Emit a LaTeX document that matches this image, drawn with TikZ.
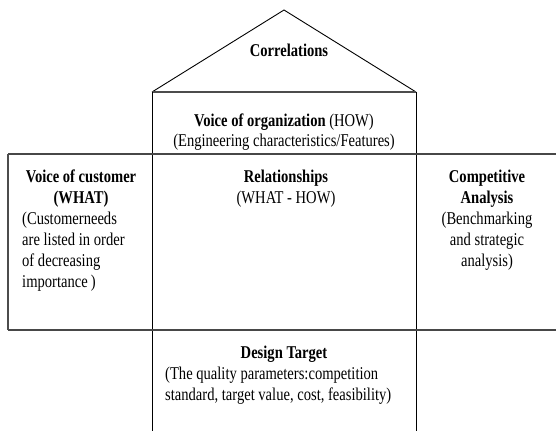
\documentclass[tikz,border=0pt]{standalone}
\usepackage{fontspec}
\setmainfont{Liberation Serif}[FakeStretch=0.81]
\tikzset{
  txt/.style={inner sep=0pt, font=\fontsize{18}{21}\selectfont},
  hline/.style={line width=2pt, draw=black!72},
  vline/.style={line width=0.9pt, draw=black}
}
\begin{document}
\begin{tikzpicture}[x=1pt, y=-1pt]
\useasboundingbox (0,0) rectangle (556,431);

% corners of the house
\coordinate (apex) at (284,10);
\coordinate (roofl) at (152,92);
\coordinate (roofr) at (416,92);
\coordinate (footl) at (152,431);
\coordinate (footr) at (416,431);
\coordinate (whatnw) at (8,154);
\coordinate (whatsw) at (8,330);
\coordinate (edgetop) at (556,154);
\coordinate (edgebot) at (556,330);

\draw[vline] (roofl) -- (apex) -- (roofr);
\draw[line width=1.2pt, black!70] (roofl) -- (roofr);
\draw[vline] (roofl) -- (footl);
\draw[vline] (roofr) -- (footr);
\draw[hline] (whatnw) -- (edgetop);
\draw[hline] (whatsw) -- (edgebot);
\draw[line width=1.5pt, black!70] (whatnw) -- (whatsw);

% roof and upper room
\node[txt, anchor=base] (corr) at (289,56) {\textbf{Correlations}};
\node[txt, anchor=base] (how) at (284,126) {\textbf{Voice of organization} (HOW)};
\node[txt, anchor=base] (howsub) at (284,146) {(Engineering characteristics/Features)};

% left room
\node[txt, anchor=base] (what) at (81,182) {\textbf{Voice of customer}};
\node[txt, anchor=base] (whatb) at (81,203) {\textbf{(WHAT)}};
\node[txt, anchor=base west] (what1) at (22,224) {(Customerneeds};
\node[txt, anchor=base west] (what2) at (22,245) {are listed in order};
\node[txt, anchor=base west] (what3) at (22,266) {of decreasing};
\node[txt, anchor=base west] (what4) at (22,287) {importance\,)};

% middle room
\node[txt, anchor=base] (rel) at (286,182) {\textbf{Relationships}};
\node[txt, anchor=base] (relsub) at (286,203) {(WHAT - HOW)};

% right room
\node[txt, anchor=base] (comp) at (487,182) {\textbf{Competitive}};
\node[txt, anchor=base] (compb) at (487,203) {\textbf{Analysis}};
\node[txt, anchor=base] (comp1) at (487,224) {(Benchmarking};
\node[txt, anchor=base] (comp2) at (487,245) {and strategic};
\node[txt, anchor=base] (comp3) at (487,266) {analysis)};

% basement
\node[txt, anchor=base] (dt) at (284,358) {\textbf{Design Target}};
\node[txt, anchor=base west] (dt1) at (165,379) {(The quality parameters:competition};
\node[txt, anchor=base west] (dt2) at (165,400) {standard, target value, cost, feasibility)};

\end{tikzpicture}
\end{document}
